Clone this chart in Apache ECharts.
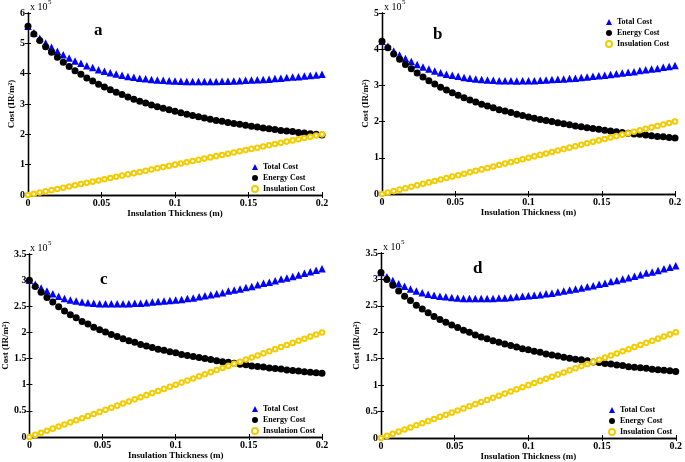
<!DOCTYPE html>
<html>
<head>
<meta charset="utf-8">
<script src="https://cdn.jsdelivr.net/npm/echarts@6/dist/echarts.min.js"></script>
<style>html,body{margin:0;padding:0;background:#fff}#c{width:685px;height:462px}</style>
</head>
<body>
<div id="c"></div>
<script>
// Insulation thickness (m)
const xs = [0,0.004,0.008,0.012,0.016,0.02,0.024,0.028,0.032,0.036,0.04,0.044,0.048,0.052,0.056,0.06,0.064,0.068,0.072,0.076,0.08,0.084,0.088,0.092,0.096,0.1,0.104,0.108,0.112,0.116,0.12,0.124,0.128,0.132,0.136,0.14,0.144,0.148,0.152,0.156,0.16,0.164,0.168,0.172,0.176,0.18,0.184,0.188,0.192,0.196,0.2];
// Costs in units of 1e5 IR/m2
const insulation = [0,0.04,0.08,0.12,0.16,0.2,0.24,0.28,0.32,0.36,0.4,0.44,0.48,0.52,0.56,0.6,0.64,0.68,0.72,0.76,0.8,0.84,0.88,0.92,0.96,1,1.04,1.08,1.12,1.16,1.2,1.24,1.28,1.32,1.36,1.4,1.44,1.48,1.52,1.56,1.6,1.64,1.68,1.72,1.76,1.8,1.84,1.88,1.92,1.96,2];

const energyA = [5.56,5.31,5.09,4.89,4.71,4.54,4.38,4.24,4.10,3.98,3.86,3.76,3.65,3.56,3.47,3.39,3.31,3.23,3.16,3.09,3.03,2.97,2.91,2.86,2.81,2.76,2.71,2.66,2.62,2.58,2.54,2.50,2.46,2.43,2.39,2.36,2.33,2.30,2.27,2.24,2.21,2.18,2.16,2.13,2.11,2.09,2.06,2.04,2.02,2.00,1.98];
const totalA = [5.56,5.35,5.17,5.01,4.87,4.74,4.62,4.52,4.42,4.34,4.26,4.20,4.13,4.08,4.03,3.99,3.95,3.91,3.88,3.85,3.83,3.81,3.79,3.78,3.77,3.76,3.75,3.74,3.74,3.74,3.74,3.74,3.74,3.75,3.75,3.76,3.77,3.78,3.79,3.80,3.81,3.82,3.84,3.85,3.87,3.89,3.90,3.92,3.94,3.96,3.98];

const energyB = [4.22,4.04,3.87,3.72,3.58,3.46,3.34,3.23,3.13,3.04,2.95,2.87,2.80,2.73,2.66,2.60,2.54,2.48,2.43,2.38,2.33,2.29,2.25,2.20,2.17,2.13,2.09,2.06,2.03,2.00,1.97,1.94,1.91,1.88,1.86,1.83,1.81,1.79,1.76,1.74,1.72,1.70,1.68,1.66,1.65,1.63,1.61,1.59,1.58,1.56,1.55];
const totalB = [4.22,4.08,3.95,3.84,3.74,3.66,3.58,3.51,3.45,3.40,3.35,3.31,3.28,3.25,3.22,3.20,3.18,3.16,3.15,3.14,3.13,3.13,3.13,3.12,3.13,3.13,3.13,3.14,3.15,3.16,3.17,3.18,3.19,3.20,3.22,3.23,3.25,3.27,3.28,3.30,3.32,3.34,3.36,3.38,3.41,3.43,3.45,3.47,3.50,3.52,3.55];

const energyC = [3.00,2.88,2.77,2.67,2.58,2.49,2.41,2.34,2.28,2.21,2.16,2.10,2.05,2.01,1.96,1.92,1.88,1.84,1.81,1.77,1.74,1.71,1.68,1.66,1.63,1.61,1.58,1.56,1.54,1.52,1.50,1.48,1.46,1.44,1.43,1.41,1.39,1.38,1.36,1.35,1.34,1.32,1.31,1.30,1.28,1.27,1.26,1.25,1.24,1.23,1.22];
const totalC = [3.00,2.92,2.85,2.79,2.74,2.69,2.65,2.62,2.60,2.58,2.57,2.56,2.55,2.55,2.55,2.55,2.55,2.55,2.56,2.56,2.57,2.58,2.59,2.60,2.61,2.62,2.63,2.65,2.66,2.68,2.70,2.72,2.74,2.76,2.79,2.81,2.83,2.86,2.88,2.91,2.94,2.96,2.99,3.02,3.04,3.07,3.10,3.13,3.16,3.19,3.22];

const energyD = [3.13,3.00,2.89,2.78,2.68,2.60,2.51,2.44,2.37,2.30,2.24,2.19,2.14,2.09,2.04,2.00,1.95,1.91,1.88,1.84,1.81,1.78,1.75,1.72,1.69,1.67,1.64,1.62,1.59,1.57,1.55,1.53,1.51,1.49,1.48,1.46,1.44,1.43,1.41,1.40,1.38,1.37,1.35,1.34,1.33,1.32,1.30,1.29,1.28,1.27,1.26];
const totalD = [3.13,3.05,2.98,2.92,2.87,2.82,2.78,2.75,2.72,2.70,2.68,2.67,2.66,2.65,2.64,2.64,2.64,2.64,2.64,2.64,2.65,2.65,2.66,2.67,2.68,2.69,2.70,2.71,2.73,2.74,2.76,2.78,2.80,2.82,2.84,2.86,2.88,2.91,2.93,2.96,2.98,3.01,3.03,3.06,3.09,3.12,3.14,3.17,3.20,3.23,3.26];

const panelLetters = ['a','b','c','d'];
const seriesNames = ['Total Cost','Energy Cost','Insulation Cost'];
const yMax = [6,5,3.5,3.5];
const yStep = [1,1,0.5,0.5];
const xTickStep = 0.05;

// layout (pixels)
const grids = [
  {left:28, top:13, width:294, height:182},
  {left:382, top:13, width:293, height:181},
  {left:28, top:254, width:294, height:183},
  {left:381, top:253, width:299, height:185}
];
const letterPos = [[99,32],[438,36],[105,281],[478,270]];
const legendPos = [[251,163],[605,18],[251,405],[608,406]];

const totals = [totalA,totalB,totalC,totalD];
const energies = [energyA,energyB,energyC,energyD];

const FONT = 'Liberation Serif';
const BLUE = '#0000ff', BLACK = '#000000', YELLOW = '#f2cc00';

const pairs = ys => xs.map((x,i)=>[x, ys[i]]);

const xAxes = [], yAxes = [], series = [], legends = [], graphics = [];
grids.forEach((g,i)=>{
  const lineS = {show:true, lineStyle:{color:'#000', width:1.3}};
  const tickS = {show:true, inside:true, length:3, lineStyle:{color:'#000', width:1}};
  xAxes.push({gridIndex:i, type:'value', min:0, max:0.2, interval:xTickStep, position:'bottom',
    axisLine:lineS, axisTick:tickS, splitLine:{show:false},
    axisLabel:{color:'#000', fontFamily:FONT, fontWeight:'bold', fontSize:10, margin:3, showMaxLabel:true},
    name:'Insulation Thickness (m)', nameLocation:'middle', nameGap:13,
    nameTextStyle:{color:'#000', fontFamily:FONT, fontWeight:'bold', fontSize:9}});
  xAxes.push({gridIndex:i, type:'value', min:0, max:0.2, interval:xTickStep, position:'top',
    axisLine:lineS, axisTick:tickS, splitLine:{show:false}, axisLabel:{show:false}});
  yAxes.push({gridIndex:i, type:'value', min:0, max:yMax[i], interval:yStep[i], position:'left',
    axisLine:lineS, axisTick:tickS, splitLine:{show:false},
    axisLabel:{color:'#000', fontFamily:FONT, fontWeight:'bold', fontSize:10, margin:3},
    name:'Cost (IR/m²)', nameLocation:'middle', nameGap:8, nameRotate:90,
    nameTextStyle:{color:'#000', fontFamily:FONT, fontWeight:'bold', fontSize:9}});
  yAxes.push({gridIndex:i, type:'value', min:0, max:yMax[i], interval:yStep[i], position:'right',
    axisLine:lineS, axisTick:tickS, splitLine:{show:false}, axisLabel:{show:false}});

  const xi = 2*i, yi = 2*i;
  series.push({name:seriesNames[0], type:'scatter', xAxisIndex:xi, yAxisIndex:yi, symbol:'triangle', symbolSize:7.5,
    itemStyle:{color:BLUE, opacity:1}, data:pairs(totals[i]), silent:true});
  series.push({name:seriesNames[1], type:'scatter', xAxisIndex:xi, yAxisIndex:yi, symbol:'circle', symbolSize:7,
    itemStyle:{color:BLACK, opacity:1}, data:pairs(energies[i]), silent:true});
  series.push({name:seriesNames[2], type:'scatter', xAxisIndex:xi, yAxisIndex:yi, symbol:'emptyCircle', symbolSize:4.6,
    itemStyle:{color:YELLOW, borderWidth:1.3, opacity:1}, data:pairs(insulation), silent:true});

  legends.push({orient:'vertical', left:legendPos[i][0], top:legendPos[i][1], itemWidth:6, itemHeight:6, itemGap:3,
    padding:0, selectedMode:false,
    textStyle:{color:'#000', fontFamily:FONT, fontWeight:'bold', fontSize:8},
    data:[{name:seriesNames[0], icon:'triangle'},{name:seriesNames[1], icon:'circle'},{name:seriesNames[2], icon:'emptyCircle'}]});

  graphics.push({type:'text', left:letterPos[i][0]-5, top:letterPos[i][1]-10,
    style:{text:panelLetters[i], font:'bold 17px "Liberation Serif"', fill:'#000'}});
  graphics.push({type:'text', left:g.left+2, top:g.top-11,
    style:{text:'x 10', font:'10px "Liberation Serif"', fill:'#000'}});
  graphics.push({type:'text', left:g.left+20, top:g.top-14,
    style:{text:'5', font:'7px "Liberation Serif"', fill:'#000'}});
});

const chart = echarts.init(document.getElementById('c'), null, {renderer:'canvas'});
chart.setOption({
  animation:false,
  backgroundColor:'#fff',
  grid:grids,
  xAxis:xAxes,
  yAxis:yAxes,
  legend:legends,
  series:series,
  graphic:graphics
});
</script>
</body>
</html>
